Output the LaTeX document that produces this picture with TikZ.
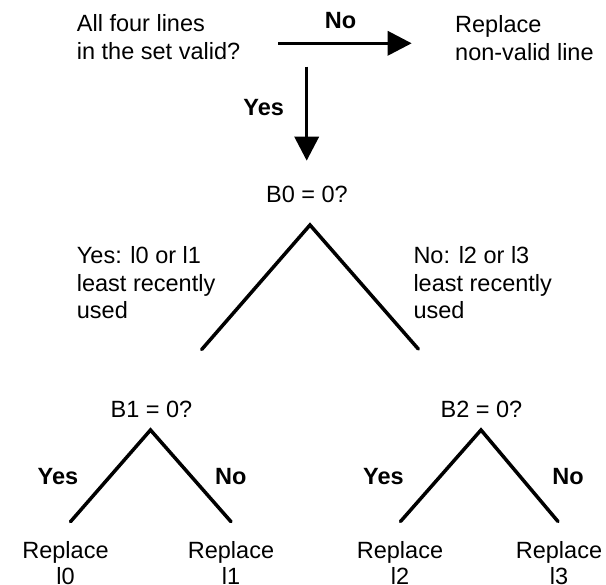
\documentclass[tikz,border=0pt]{standalone}
\usepackage{fontspec}
\setmainfont{Liberation Sans}
\usetikzlibrary{arrows.meta}
\newcommand{\lines}[2][l]{\begin{tabular}[t]{@{}#1@{}}#2\end{tabular}}
\begin{document}
\begin{tikzpicture}[x=1pt,y=-1pt,
  txt/.style={inner sep=0pt, font=\fontsize{23.5}{27.8}\selectfont},
  leaf/.style={inner sep=0pt, anchor=base, font=\fontsize{23.5}{26}\selectfont},
  lbl/.style={inner sep=0pt, anchor=base, font=\fontsize{23.5}{27.8}\selectfont\bfseries},
  branch/.style={line width=3.5pt, line join=miter, line cap=round},
  flow/.style={line width=3.5pt, -{Triangle[length=24pt,width=24pt]}}]
\useasboundingbox (0,0) rectangle (606,585);

% question and outcome at the top
\node[txt, anchor=base west] (valid) at (76.7,31.7) {\lines{All four lines\\in the set valid?}};
\node[txt, anchor=base west] (nonvalid) at (455,32.3) {\lines{Replace\\non-valid line}};
\coordinate (noStart) at (278.3,43.3);
\coordinate (noEnd)   at (411.7,43.3);
\draw[flow] (noStart) -- (noEnd);
\node[lbl] (noTop) at (340.5,28.7) {No};

\coordinate (yesStart) at (306.7,66.7);
\coordinate (yesEnd)   at (306.7,160.7);
\draw[flow] (yesStart) -- (yesEnd);
\node[lbl] (yesTop) at (263.7,116) {Yes};

% first decision bit
\node[txt, anchor=base] (b0) at (307,202.7) {B0 = 0?};
\coordinate (b0apex)  at (310,225);
\coordinate (b0left)  at (201.7,349.5);
\coordinate (b0right) at (418.3,349);
\draw[branch] (b0left) -- (b0apex) -- (b0right);
\node[txt, anchor=base west] (lowpair)  at (76.7,263.3)  {\lines{Yes: l0 or l1\\least recently\\used}};
\node[txt, anchor=base west] (highpair) at (413.3,263.3) {\lines{No: l2 or l3\\least recently\\used}};

% second level, left
\node[txt, anchor=base] (b1) at (151.5,417.3) {B1 = 0?};
\coordinate (b1apex)  at (150.5,430);
\coordinate (b1left)  at (70.5,521.7);
\coordinate (b1right) at (231,521.7);
\draw[branch] (b1left) -- (b1apex) -- (b1right);
\node[lbl] (yesB1) at (58,485) {Yes};
\node[lbl] (noB1)  at (230.7,485) {No};
\node[leaf] (rep0) at (65.5,558.3) {\lines[c]{Replace\\l0}};
\node[leaf] (rep1) at (231,558.3)  {\lines[c]{Replace\\l1}};

% second level, right
\node[txt, anchor=base] (b2) at (481.5,417.3) {B2 = 0?};
\coordinate (b2apex)  at (481,430);
\coordinate (b2left)  at (400.5,521.5);
\coordinate (b2right) at (558,521.5);
\draw[branch] (b2left) -- (b2apex) -- (b2right);
\node[lbl] (yesB2) at (383.5,485) {Yes};
\node[lbl] (noB2)  at (568,485) {No};
\node[leaf] (rep2) at (400,558.3) {\lines[c]{Replace\\l2}};
\node[leaf] (rep3) at (559,558.3) {\lines[c]{Replace\\l3}};
\end{tikzpicture}
\end{document}
